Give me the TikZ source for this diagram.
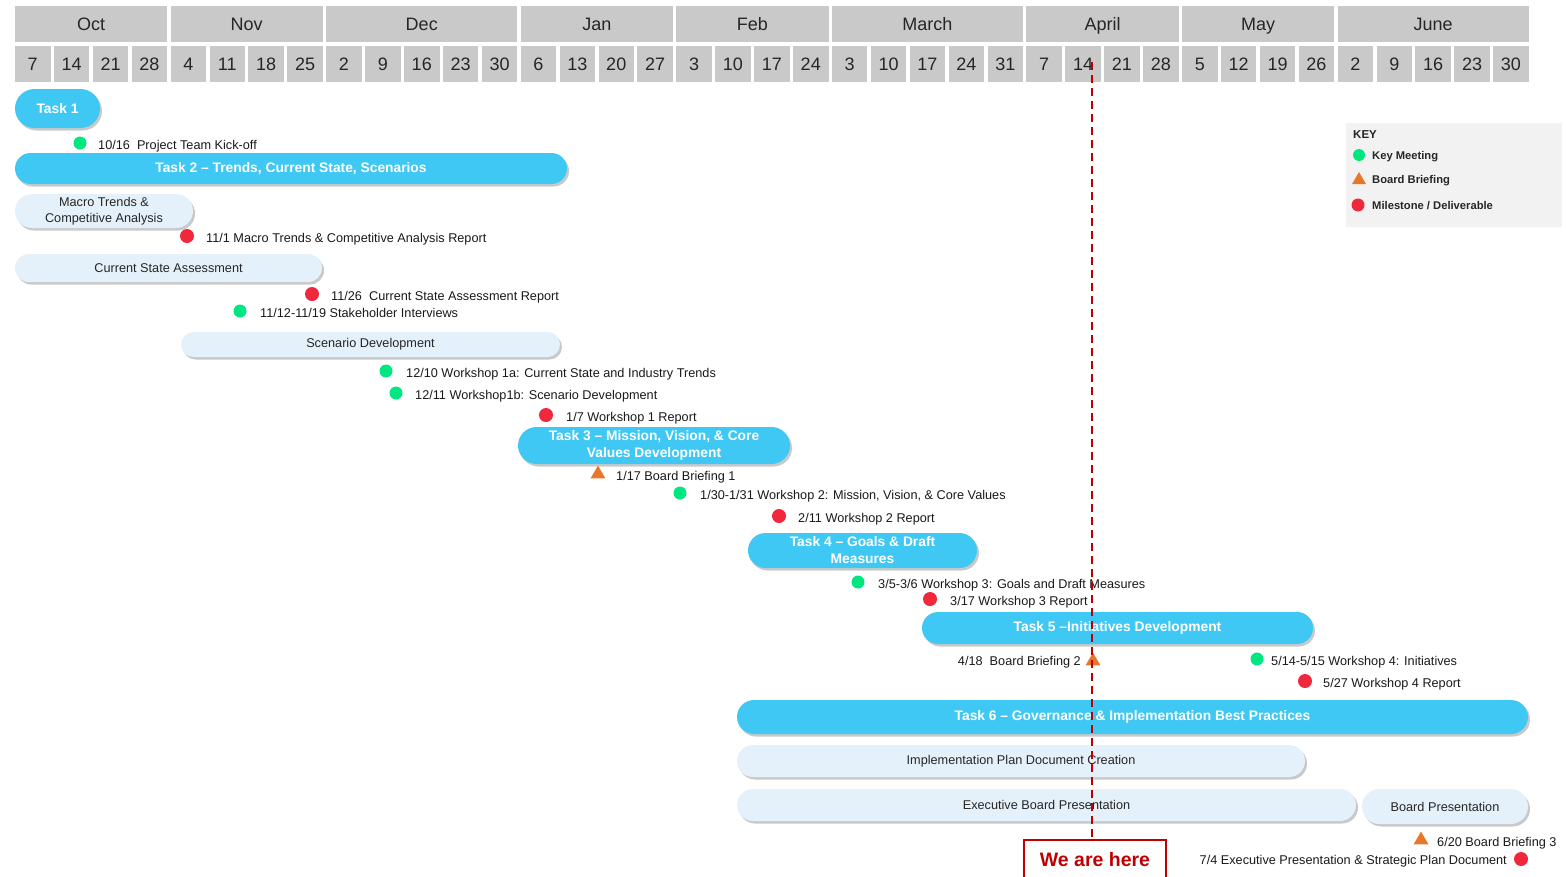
\documentclass[tikz,border=0pt]{standalone}
\usepackage{fontspec}
\setmainfont{Liberation Sans}
\usetikzlibrary{shapes.misc,shapes.geometric,shadows}

\definecolor{taskblue}{RGB}{64,200,245}
\definecolor{subblue}{RGB}{228,241,250}
\definecolor{hdrgray}{RGB}{201,201,201}
\definecolor{keygray}{RGB}{242,242,242}
\definecolor{meetgreen}{RGB}{0,230,128}
\definecolor{milered}{RGB}{240,40,60}
\definecolor{brieforange}{RGB}{232,119,42}
\definecolor{nowred}{RGB}{192,0,0}

\tikzset{
  hdrcell/.style={fill=hdrgray, inner sep=0, minimum height=36pt, text=black!85,
    text height=12.9pt, text depth=0pt, font=\fontsize{18}{20}\selectfont},
  barshadow/.style={drop shadow={shadow xshift=2pt, shadow yshift=-2.5pt, opacity=0.3, fill=black!70}},
  taskbar/.style={rounded rectangle, fill=taskblue, inner sep=0, text=white, align=center,
    font=\fontsize{13.8}{17}\selectfont\bfseries, barshadow},
  subbar/.style={rounded rectangle, fill=subblue, inner sep=0, text=black!85, align=center,
    font=\fontsize{12.7}{16}\selectfont, barshadow},
  meet/.style={circle, fill=meetgreen, minimum size=13pt, inner sep=0},
  mile/.style={circle, fill=milered, minimum size=14pt, inner sep=0},
  brief/.style={regular polygon, regular polygon sides=3, fill=brieforange, minimum size=17pt, inner sep=0},
  lbl/.style={inner sep=0, text=black!90, font=\fontsize{12.7}{14}\selectfont},
  keylbl/.style={inner sep=0, text=black!85, font=\fontsize{11.2}{12}\selectfont\bfseries},
  nowline/.style={nowred, line width=2pt, dash pattern=on 8pt off 5pt}
}

\begin{document}
\begin{tikzpicture}[x=1pt, y=-1pt]
\useasboundingbox (0,0) rectangle (1566,876);

\foreach \m/\a/\b in {Oct/0/3, Nov/4/7, Dec/8/12, Jan/13/16, Feb/17/20,
  March/21/25, April/26/29, May/30/33, June/34/38}
  \node[hdrcell, minimum width={(38.9*(\b-\a)+35.5)*1pt}] (\m) at ({32.75+38.9*(\a+\b)/2},24) {\m};
\foreach \i/\d in {0/7,1/14,2/21,3/28,4/4,5/11,6/18,7/25,8/2,9/9,10/16,11/23,12/30,
  13/6,14/13,15/20,16/27,17/3,18/10,19/17,20/24,21/3,22/10,23/17,24/24,25/31,
  26/7,27/14,28/21,29/28,30/5,31/12,32/19,33/26,34/2,35/9,36/16,37/23,38/30}
  \node[hdrcell, minimum width=35.5pt] (day\i) at ({32.75+38.9*\i},64) {\d};

\node[taskbar, minimum width=85pt, minimum height=39pt] (task1) at (57.5,108.5) {Task 1};
\node[taskbar, minimum width=552pt, minimum height=31pt] (task2) at (291,168.5)
  {Task 2 – Trends, Current State, Scenarios};
\node[subbar, minimum width=178pt, minimum height=34pt] (macro) at (104,211)
  {Macro Trends \&\\Competitive Analysis};
\node[subbar, minimum width=307pt, minimum height=28pt] (current) at (168.5,268) {Current State Assessment};
\node[subbar, minimum width=379pt, minimum height=25pt] (scenario) at (370.5,344.5) {Scenario Development};
\node[taskbar, minimum width=272pt, minimum height=37pt] (task3) at (654,445.5)
  {Task 3 – Mission, Vision, \& Core\\Values Development};
\node[taskbar, minimum width=229pt, minimum height=35pt] (task4) at (862.5,550.5)
  {Task 4 – Goals \& Draft\\Measures};
\node[taskbar, minimum width=391pt, minimum height=32pt] (task5) at (1117.5,628)
  {Task 5 –Initiatives Development};
\node[taskbar, minimum width=791pt, minimum height=34pt] (task6) at (1132.5,717)
  {Task 6 – Governance \& Implementation Best Practices};
\node[subbar, minimum width=568pt, minimum height=32pt] (implplan) at (1021,761)
  {Implementation Plan Document Creation};
\node[subbar, minimum width=619pt, minimum height=32pt] (execboard) at (1046.5,805)
  {Executive Board Presentation};
\node[subbar, minimum width=166pt, minimum height=35pt] (boardpres) at (1445,806.5) {Board Presentation};

\foreach \n/\x/\y/\tx/\t in {
  g1/80/143/98/{10/16\ \ Project Team Kick-off},
  g2/240/311/260/{11/12-11/19 Stakeholder Interviews},
  g3/386/371/406/{12/10 Workshop 1a: Current State and Industry Trends},
  g4/396/393/415/{12/11 Workshop1b: Scenario Development},
  g5/680/493/700/{1/30-1/31 Workshop 2: Mission, Vision, \& Core Values},
  g6/858/582/878/{3/5-3/6 Workshop 3: Goals and Draft Measures},
  g7/1257/659/1271/{5/14-5/15 Workshop 4: Initiatives}}
{
  \node[meet] (\n) at (\x,\y) {};
  \node[lbl, anchor=base west] (\n txt) at (\tx,{\y+6}) {\t};
}
\foreach \n/\x/\y/\tx/\t in {
  r1/187/236/206/{11/1 Macro Trends \& Competitive Analysis Report},
  r2/312/294/331/{11/26\ \ Current State Assessment Report},
  r3/546/415/566/{1/7 Workshop 1 Report},
  r4/779/516/798/{2/11 Workshop 2 Report},
  r5/930/599/950/{3/17 Workshop 3 Report},
  r6/1305/681/1323/{5/27 Workshop 4 Report}}
{
  \node[mile] (\n) at (\x,\y) {};
  \node[lbl, anchor=base west] (\n txt) at (\tx,{\y+6}) {\t};
}
\node[mile] (r7) at (1521,859) {};
\node[lbl, anchor=base east] (r7txt) at (1507,864) {7/4 Executive Presentation \& Strategic Plan Document};
\node[brief] (b1) at (598,474) {};
\node[lbl, anchor=base west] (b1txt) at (616,480) {1/17 Board Briefing 1};
\node[brief] (b2) at (1093,661) {};
\node[lbl, anchor=base east] (b2txt) at (1081,665) {4/18\ \ Board Briefing 2};
\node[brief] (b3) at (1421,840) {};
\node[lbl, anchor=base west] (b3txt) at (1437,846) {6/20 Board Briefing 3};

\node[fill=keygray, minimum width=216pt, minimum height=104pt, inner sep=0] (key) at (1454,175) {};
\node[keylbl, anchor=base west, font=\fontsize{11.5}{12}\selectfont\bfseries] (keytitle) at (1353,138) {KEY};
\node[meet, minimum size=12pt] (keymeet) at (1359,155) {};
\node[keylbl, anchor=base west] (keymeettxt) at (1372,159) {Key Meeting};
\node[brief, minimum size=16pt] (keybrief) at (1359,180) {};
\node[keylbl, anchor=base west] (keybrieftxt) at (1372,183) {Board Briefing};
\node[mile, minimum size=13pt] (keymile) at (1358,205) {};
\node[keylbl, anchor=base west] (keymiletxt) at (1372,209) {Milestone / Deliverable};

\node[draw=nowred, line width=1.5pt, fill=white, minimum width=142pt, minimum height=40pt,
  text=nowred, font=\fontsize{19.5}{20}\selectfont\bfseries] (here) at (1095,860) {We are here};
\coordinate (nowtop) at (1092,62);
\draw[nowline] (nowtop) -- (nowtop |- here.north);
\end{tikzpicture}
\end{document}
